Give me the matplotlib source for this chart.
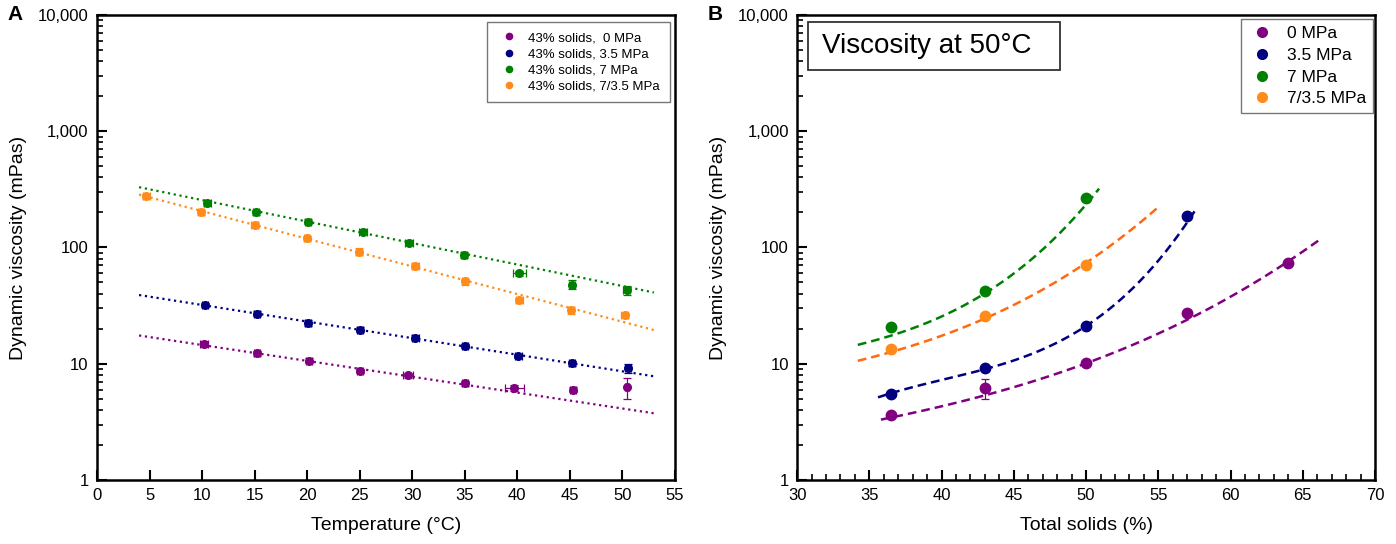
import numpy as np
import matplotlib
matplotlib.use("Agg")
import matplotlib.pyplot as plt
from matplotlib.lines import Line2D
from matplotlib.patches import Rectangle
from matplotlib.ticker import FixedLocator, LogLocator, MultipleLocator, NullFormatter

plt.rcParams['font.family'] = ['Liberation Sans', 'DejaVu Sans']

# ---------------- datos panel A (viscosidad vs temperatura, 43% solidos) ----------------
labels_a = ['43% solids,  0 MPa', '43% solids, 3.5 MPa', '43% solids, 7 MPa', '43% solids, 7/3.5 MPa']
colores = ['#800080', '#000080', '#008000', '#FF8C1A']

temp_0 = [10.2, 15.2, 20.2, 25.0, 29.6, 35.0, 39.7, 45.3, 50.4]
visc_0 = [14.8, 12.3, 10.6, 8.7, 8.0, 6.8, 6.2, 6.0, 6.3]
yerr_0 = [0.9, 0.6, 0.5, 0.4, 0.4, 0.3, 0.4, 0.3, 1.3]
xerr_0 = [0.4, 0.3, 0.3, 0.3, 0.5, 0.3, 0.9, 0.3, 0.2]

temp_35 = [10.3, 15.2, 20.1, 25.0, 30.3, 35.0, 40.1, 45.2, 50.5]
visc_35 = [32, 27, 22.5, 19.6, 16.7, 14.3, 11.7, 10.1, 9.2]
yerr_35 = [1.2, 1.3, 1.3, 1.0, 0.8, 0.6, 0.4, 0.5, 0.8]
xerr_35 = [0.3, 0.3, 0.3, 0.3, 0.3, 0.3, 0.3, 0.3, 0.3]

temp_7 = [10.5, 15.1, 20.1, 25.3, 29.7, 34.9, 40.2, 45.2, 50.4]
visc_7 = [240, 200, 167, 137, 110, 86, 60, 48, 43]
yerr_7 = [14, 9, 8, 7, 6, 5, 3, 4, 4]
xerr_7 = [0.3, 0.3, 0.3, 0.4, 0.4, 0.3, 0.6, 0.3, 0.3]

temp_735 = [4.7, 9.9, 15.0, 20.0, 24.9, 30.3, 35.0, 40.2, 45.1, 50.2]
visc_735 = [275, 200, 155, 120, 92, 69, 51, 35, 29, 26]
yerr_735 = [14, 11, 9, 6, 6, 4, 3, 2, 2, 1.5]
xerr_735 = [0.3, 0.3, 0.3, 0.3, 0.3, 0.3, 0.3, 0.3, 0.3, 0.3]

# ajustes exponenciales (extremos de las rectas punteadas)
ajuste_x = [4, 53]
ajuste_0 = [17.5, 3.75]
ajuste_35 = [39, 7.8]
ajuste_7 = [330, 41]
ajuste_735 = [285, 19.5]

# ---------------- datos panel B (viscosidad a 50 C vs solidos totales) ----------------
labels_b = ['0 MPa', '3.5 MPa', '7 MPa', '7/3.5 MPa']

sol_0 = [36.5, 43, 50, 57, 64]
vis_0 = [3.6, 6.2, 10.1, 27.5, 74]
err_0 = [0.2, 1.2, 0.3, 0.8, 2.5]

sol_35 = [36.5, 43, 50, 57]
vis_35 = [5.5, 9.2, 21, 185]

sol_7 = [36.5, 43, 50]
vis_7 = [20.5, 42.5, 265]

sol_735 = [36.5, 43, 50]
vis_735 = [13.3, 25.5, 70]

curva_x_0 = [35.8, 40, 43, 46.5, 50, 53.5, 57, 60.5, 64, 66.2]
curva_y_0 = [3.3, 4.3, 5.4, 7.2, 10, 14.5, 25, 41, 74, 119]
curva_x_35 = [35.6, 36.5, 40, 43, 47, 50, 53, 55, 56.2, 57, 57.6]
curva_y_35 = [5.2, 5.6, 7, 9, 13.5, 22, 42, 72, 115, 170, 220]
curva_x_7 = [34.2, 36.5, 40, 43, 46, 47.6, 50, 50.9]
curva_y_7 = [14.5, 17.4, 26, 40, 72, 115, 250, 305]
curva_x_735 = [34.2, 36.5, 40, 43, 46, 50, 52.5, 55]
curva_y_735 = [10.6, 12.7, 17, 25, 37, 75, 120, 225]


def estilo_log(ax):
    ax.set_yscale('log')
    ax.set_ylim(1, 10000)
    ax.yaxis.set_major_locator(FixedLocator([1, 10, 100, 1000, 10000]))
    ax.set_yticklabels(['1', '10', '100', '1,000', '10,000'])
    ax.yaxis.set_minor_locator(LogLocator(base=10, subs=np.arange(2, 10)))
    ax.yaxis.set_minor_formatter(NullFormatter())
    ax.tick_params(axis='both', which='major', direction='in', length=7, width=1.5,
                   labelsize=12, top=False, right=False, pad=6)
    ax.tick_params(axis='both', which='minor', direction='in', length=4, width=1.2,
                   top=False, right=False)
    for s in ax.spines.values():
        s.set_linewidth(1.8)
    ax.set_ylabel('Dynamic viscosity (mPas)', fontsize=14, labelpad=8)


def manijas(ms):
    # solo el punto en la leyenda, sin barras de error
    return [Line2D([], [], ls='', marker='o', color=c, ms=ms) for c in colores]


fig = plt.figure(figsize=(13.96, 5.44), dpi=100)
axA = fig.add_axes([0.0695, 0.1176, 0.414, 0.855])
axB = fig.add_axes([0.571, 0.1176, 0.414, 0.855])

# ---------------- panel A ----------------
series_a = [(temp_0, visc_0, xerr_0, yerr_0, ajuste_0),
            (temp_35, visc_35, xerr_35, yerr_35, ajuste_35),
            (temp_7, visc_7, xerr_7, yerr_7, ajuste_7),
            (temp_735, visc_735, xerr_735, yerr_735, ajuste_735)]
for (t, v, xe, ye, aj), c in zip(series_a, colores):
    axA.plot(ajuste_x, aj, ls=':', color=c, lw=1.6)
    axA.errorbar(t, v, xerr=xe, yerr=ye, fmt='o', color=c, ms=5.5, elinewidth=0.9,
                 capsize=3, capthick=0.9, zorder=3)

estilo_log(axA)
axA.set_xlim(0, 55)
axA.xaxis.set_major_locator(MultipleLocator(5))
axA.set_xlabel('Temperature (°C)', fontsize=14, labelpad=10)
axA.legend(manijas(4.5), labels_a, loc='upper right', fontsize=9.5, frameon=True,
           fancybox=False, edgecolor='#555555', handletextpad=0.52, handlelength=1.83,
           borderpad=0.75, labelspacing=0.3, borderaxespad=0,
           bbox_to_anchor=(0.991, 0.985))
axA.text(-0.155, 1.0, 'A', transform=axA.transAxes, fontsize=15, fontweight='bold',
         va='center', ha='left')

# ---------------- panel B ----------------
series_b = [(sol_0, vis_0, curva_x_0, curva_y_0),
            (sol_35, vis_35, curva_x_35, curva_y_35),
            (sol_7, vis_7, curva_x_7, curva_y_7),
            (sol_735, vis_735, curva_x_735, curva_y_735)]
for (s, v, cx, cy), c in zip(series_b, colores):
    # curva suave a traves de los puntos leidos (ajuste polinomico en escala log)
    coef = np.polyfit(cx, np.log10(cy), 3)
    xs = np.linspace(cx[0], cx[-1], 200)
    col_linea = '#FF6A10' if c == '#FF8C1A' else c
    axB.plot(xs, 10 ** np.polyval(coef, xs), ls='--', color=col_linea, lw=1.8,
             dashes=(3.5, 2))
    if s is sol_0:
        axB.errorbar(s, v, yerr=err_0, fmt='o', color=c, ms=7.5, elinewidth=0.9,
                     capsize=3, capthick=0.9, zorder=3)
    else:
        axB.plot(s, v, 'o', color=c, ms=7.5, zorder=3)

estilo_log(axB)
axB.set_xlim(30, 70)
axB.xaxis.set_major_locator(MultipleLocator(5))
axB.xaxis.set_minor_locator(MultipleLocator(1))
axB.set_xlabel('Total solids (%)', fontsize=14, labelpad=10)
axB.legend(manijas(7), labels_b, loc='upper right', fontsize=12.5, frameon=True,
           fancybox=False, edgecolor='#555555', handletextpad=0.64, handlelength=1.6,
           borderpad=0.4, labelspacing=0.38, borderaxespad=0,
           bbox_to_anchor=(0.9965, 0.991))
axB.add_patch(Rectangle((0.019, 0.882), 0.436, 0.103, transform=axB.transAxes,
                        fc='white', ec='#333333', lw=1.3, zorder=4))
axB.text(0.043, 0.933, 'Viscosity at 50°C', transform=axB.transAxes, fontsize=20,
         va='center', ha='left', zorder=5)
axB.text(-0.155, 1.0, 'B', transform=axB.transAxes, fontsize=15, fontweight='bold',
         va='center', ha='left')

fig.savefig('out.png', dpi=100)
